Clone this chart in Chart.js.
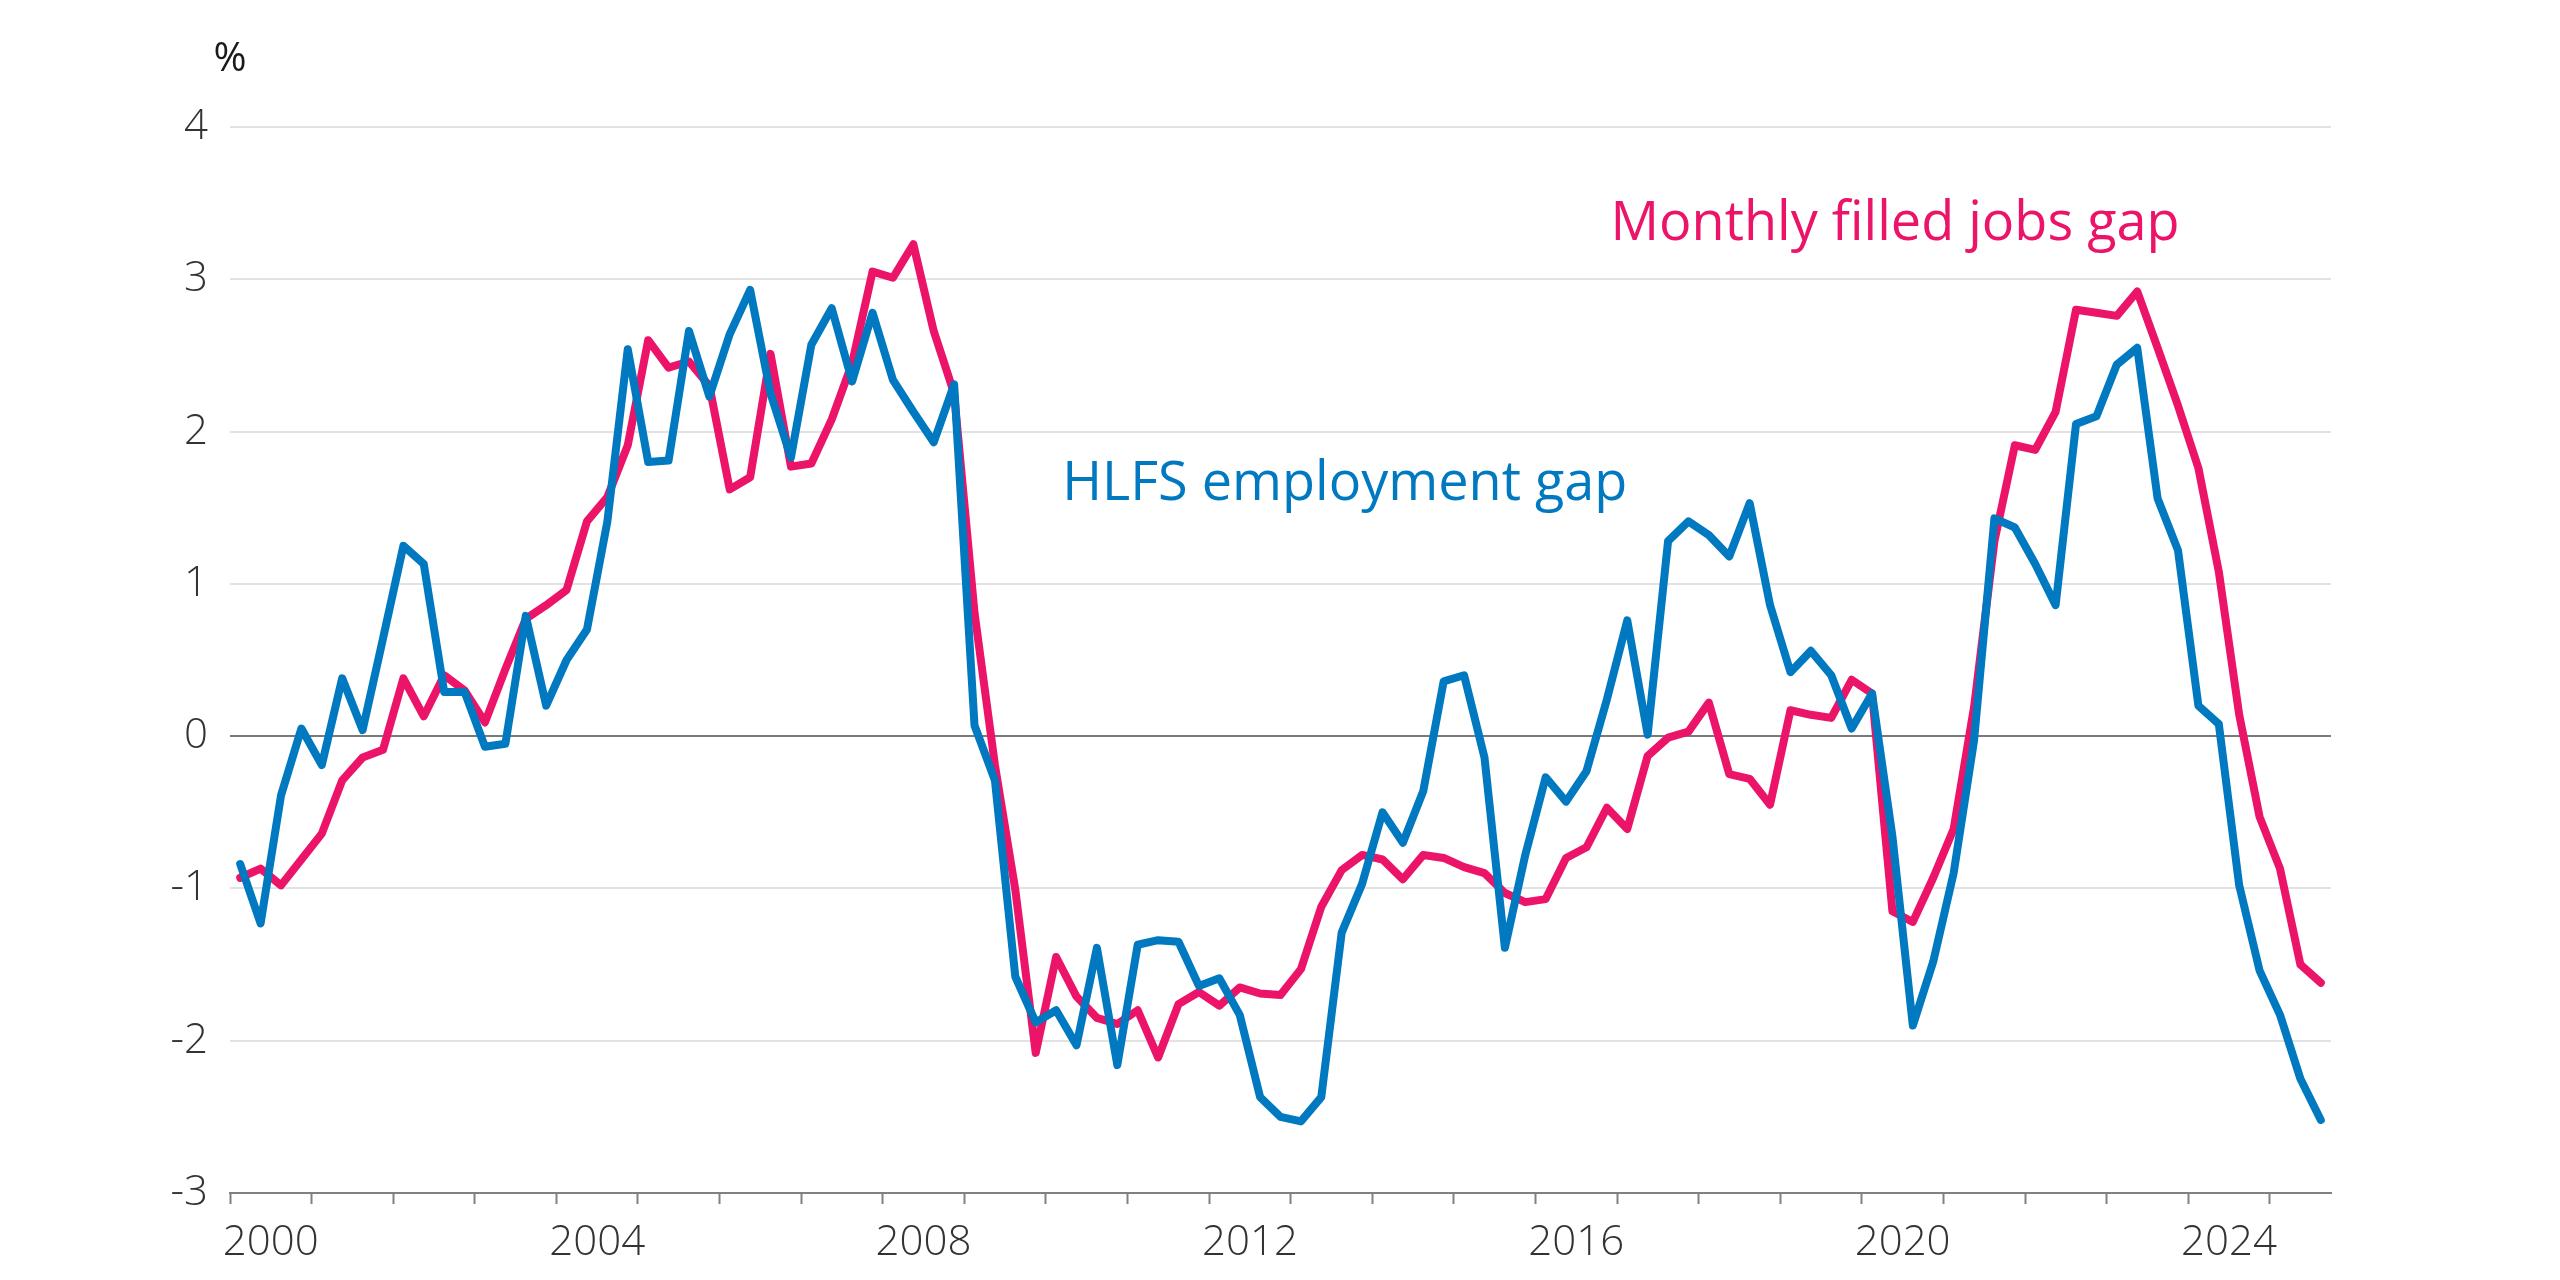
<!DOCTYPE html>
<html>
<head>
<meta charset="utf-8">
<script src="https://cdn.jsdelivr.net/npm/chart.js@4.4.1/dist/chart.umd.min.js"></script>
<style>
  html, body { margin: 0; padding: 0; background: #fff; }
  #wrap { width: 2560px; height: 1280px; }
</style>
</head>
<body>
<div id="wrap"><canvas id="grafico" width="2560" height="1280"></canvas></div>
<script>
// --- data (quarterly, first point = 2000 Q1) ---
const firstYear = 2000;
const hlfsGap = [
  -0.84, -1.23, -0.39, 0.05, -0.19, 0.38, 0.04, 0.64, 1.25, 1.13, 0.29, 0.29,
  -0.07, -0.05, 0.79, 0.20, 0.50, 0.70, 1.41, 2.54, 1.80, 1.81, 2.66, 2.23,
  2.64, 2.93, 2.25, 1.83, 2.57, 2.81, 2.33, 2.78, 2.34, 2.13, 1.93, 2.31,
  0.07, -0.29, -1.58, -1.88, -1.80, -2.03, -1.39, -2.16, -1.37, -1.34, -1.35, -1.64,
  -1.59, -1.83, -2.37, -2.50, -2.53, -2.37, -1.29, -0.97, -0.50, -0.70, -0.36, 0.36,
  0.40, -0.14, -1.39, -0.78, -0.27, -0.43, -0.23, 0.24, 0.76, 0.01, 1.28, 1.41,
  1.32, 1.18, 1.53, 0.86, 0.42, 0.56, 0.40, 0.05, 0.28, -0.66, -1.90, -1.48,
  -0.90, -0.03, 1.43, 1.37, 1.13, 0.86, 2.05, 2.10, 2.44, 2.55, 1.56, 1.22,
  0.20, 0.08, -0.98, -1.54, -1.83, -2.25, -2.52
];
const filledJobsGap = [
  -0.93, -0.87, -0.98, -0.81, -0.64, -0.29, -0.14, -0.09, 0.38, 0.13, 0.40, 0.30,
  0.09, 0.44, 0.77, 0.86, 0.96, 1.41, 1.57, 1.91, 2.60, 2.42, 2.46, 2.30,
  1.62, 1.70, 2.51, 1.77, 1.79, 2.08, 2.45, 3.05, 3.01, 3.23, 2.66, 2.25,
  0.81, -0.19, -1.01, -2.08, -1.45, -1.71, -1.85, -1.89, -1.80, -2.11, -1.76, -1.68,
  -1.77, -1.65, -1.69, -1.70, -1.53, -1.12, -0.88, -0.78, -0.81, -0.94, -0.78, -0.80,
  -0.86, -0.90, -1.03, -1.09, -1.07, -0.80, -0.73, -0.47, -0.61, -0.13, -0.01, 0.03,
  0.22, -0.25, -0.28, -0.45, 0.17, 0.14, 0.12, 0.37, 0.28, -1.15, -1.22, -0.93,
  -0.61, 0.19, 1.28, 1.91, 1.88, 2.13, 2.80, 2.78, 2.76, 2.92, 2.55, 2.17,
  1.76, 1.08, 0.14, -0.53, -0.87, -1.50, -1.62
];
const yearLabels = ['2000', '2004', '2008', '2012', '2016', '2020', '2024'];
const yTicks = [-3, -2, -1, 0, 1, 2, 3, 4];

// --- styles ---
const AZUL = '#0079C1';
const ROSA = '#EB1468';
const FONTE = "'Open Sans', 'Noto Sans', sans-serif";
const CINZA_TEXTO = '#333333';

// each quarter sits in the middle of its slot
function paraPontos(serie) {
  return serie.map((v, i) => ({ x: firstYear + (i + 0.5) / 4, y: v }));
}

const ultimoAno = firstYear + hlfsGap.length / 4;
const anosInteiros = [];
for (let a = firstYear; a <= Math.floor(ultimoAno); a++) anosInteiros.push(a);
const posRotulos = yearLabels.map(a => Number(a) + 0.5);

// series names and "%" written on the canvas
const rotulosPlugin = {
  id: 'rotulos',
  afterDraw(chart) {
    const { ctx, scales } = chart;
    ctx.save();
    ctx.textBaseline = 'middle';
    ctx.textAlign = 'left';
    ctx.font = `54px ${FONTE}`;
    ctx.fillStyle = AZUL;
    ctx.fillText('HLFS employment gap', scales.x.getPixelForValue(2010.2), scales.y.getPixelForValue(1.65));
    ctx.fillStyle = ROSA;
    ctx.fillText('Monthly filled jobs gap', scales.x.getPixelForValue(2016.92), scales.y.getPixelForValue(3.36));
    ctx.textAlign = 'center';
    ctx.font = `40px ${FONTE}`;
    ctx.fillStyle = '#1a1a1a';
    ctx.fillText('%', chart.chartArea.left, 60);
    ctx.restore();
  }
};

new Chart(document.getElementById('grafico'), {
  type: 'line',
  data: {
    datasets: [
      { label: 'HLFS employment gap', data: paraPontos(hlfsGap), borderColor: AZUL, borderWidth: 8,
        pointRadius: 0, tension: 0, borderJoinStyle: 'round', borderCapStyle: 'round' },
      { label: 'Monthly filled jobs gap', data: paraPontos(filledJobsGap), borderColor: ROSA, borderWidth: 8,
        pointRadius: 0, tension: 0, borderJoinStyle: 'round', borderCapStyle: 'round' }
    ]
  },
  options: {
    responsive: false,
    animation: false,
    devicePixelRatio: 1,
    layout: { padding: { left: 0, right: 229, top: 127, bottom: 0 } },
    plugins: { legend: { display: false }, tooltip: { enabled: false } },
    scales: {
      x: {
        type: 'linear',
        min: firstYear,
        max: ultimoAno,
        afterBuildTicks: eixo => {
          eixo.ticks = anosInteiros.concat(posRotulos).sort((a, b) => a - b).map(v => ({ value: v }));
        },
        afterFit: eixo => { eixo.height = 87; },
        ticks: {
          autoSkip: false,
          maxRotation: 0,
          padding: 14,
          color: CINZA_TEXTO,
          font: { family: FONTE, size: 42, weight: 300 },
          callback: v => (Number.isInteger(v) ? '' : String(v - 0.5))
        },
        grid: {
          drawOnChartArea: false,
          drawTicks: true,
          tickLength: 11,
          tickWidth: 2,
          tickColor: c => (Number.isInteger(c.tick.value) ? '#808080' : 'rgba(0,0,0,0)')
        },
        border: { display: true, color: '#808080', width: 2 }
      },
      y: {
        min: -3,
        max: 4,
        afterBuildTicks: eixo => { eixo.ticks = yTicks.map(v => ({ value: v })); },
        afterFit: eixo => { eixo.width = 230; },
        ticks: {
          padding: 22,
          color: CINZA_TEXTO,
          font: { family: FONTE, size: 42, weight: 300 },
          callback: v => String(v)
        },
        grid: {
          drawTicks: false,
          lineWidth: 2,
          color: c => (c.tick.value === 0 ? '#7a7a7a' : '#e2e2e2')
        },
        border: { display: false }
      }
    }
  },
  plugins: [rotulosPlugin]
});
</script>
</body>
</html>
